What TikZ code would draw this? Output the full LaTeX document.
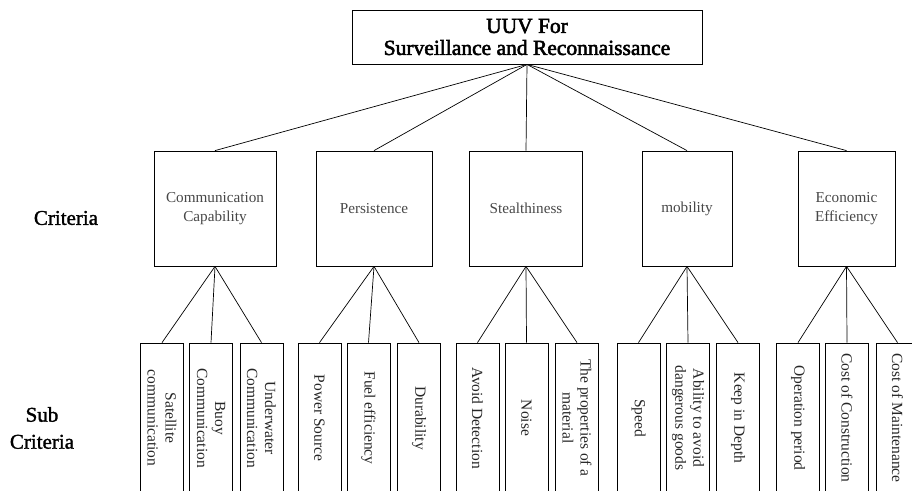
\documentclass[tikz,border=0pt]{standalone}
\usepackage{fontspec}
\setmainfont{Liberation Serif}
\newfontfamily\boldish[FakeBold=2.5]{Liberation Serif}
\newfontfamily\semibold[FakeBold=1.5]{Liberation Serif}
\begin{document}
\begin{tikzpicture}[x=1pt,y=-1pt,
  topbox/.style={draw, line width=0.8pt, minimum width=350pt, minimum height=54pt, inner sep=0pt, align=center, font=\boldish\fontsize{21.5}{22}\selectfont},
  crit/.style={draw, line width=0.8pt, minimum width=#1, minimum height=115pt, inner sep=0pt, align=center, font=\fontsize{15.2}{19}\selectfont, text=black!72},
  sub/.style={draw, line width=0.8pt, rotate=-90, minimum width=150pt, minimum height=43pt, inner sep=0pt, align=center, font=\fontsize{15.5}{18}\selectfont, text=black!85},
  lbl/.style={align=center, font=\semibold\fontsize{21}{27}\selectfont},
  conn/.style={line width=0.7pt}]
\path[use as bounding box] (0,0) rectangle (912,490);
\clip (0,0) rectangle (912,490);

\node[topbox] (top) at (527,37) {UUV For\\Surveillance and Reconnaissance};

\node[crit=122pt] (c1) at (215,208.5) {Communication\\Capability};
\node[crit=116pt] (c2) at (374,208.5) {Persistence};
\node[crit=113pt] (c3) at (526,208.5) {Stealthiness};
\node[crit=90pt]  (c4) at (687,208.5) {mobility};
\node[crit=97pt]  (c5) at (846.5,208.5) {Economic\\Efficiency};

\node[lbl] (lc) at (66,218) {Criteria};
\node[lbl] (ls) at (42,428) {Sub\\Criteria};

\node[sub] (s11) at (162,418) {Satellite\\communication};
\node[sub] (s12) at (211,418) {Buoy\\Communication};
\node[sub] (s13) at (261.5,418) {Underwater\\Communication};
\node[sub] (s21) at (319.5,418) {Power Source};
\node[sub] (s22) at (368.5,418) {Fuel efficiency};
\node[sub] (s23) at (419,418) {Durability};
\node[sub] (s31) at (477.5,418) {Avoid Detection};
\node[sub] (s32) at (526.5,418) {Noise};
\node[sub] (s33) at (577,418) {The properties of a\\material};
\node[sub] (s41) at (638.5,418) {Speed};
\node[sub] (s42) at (688,418) {Ability to avoid\\dangerous goods};
\node[sub] (s43) at (738,418) {Keep in Depth};
\node[sub] (s51) at (798,418) {Operation period};
\node[sub] (s52) at (847,418) {Cost of Construction};
\node[sub] (s53) at (897.5,418) {Cost of Maintenance};

\foreach \c in {c1,c2,c3,c4,c5}
  \draw[conn] (top.south) -- (\c.north);
\foreach \g in {1,2,3,4,5}
  \foreach \k in {1,2,3}
    \draw[conn] (c\g.south) -- (s\g\k.west);
\end{tikzpicture}
\end{document}
